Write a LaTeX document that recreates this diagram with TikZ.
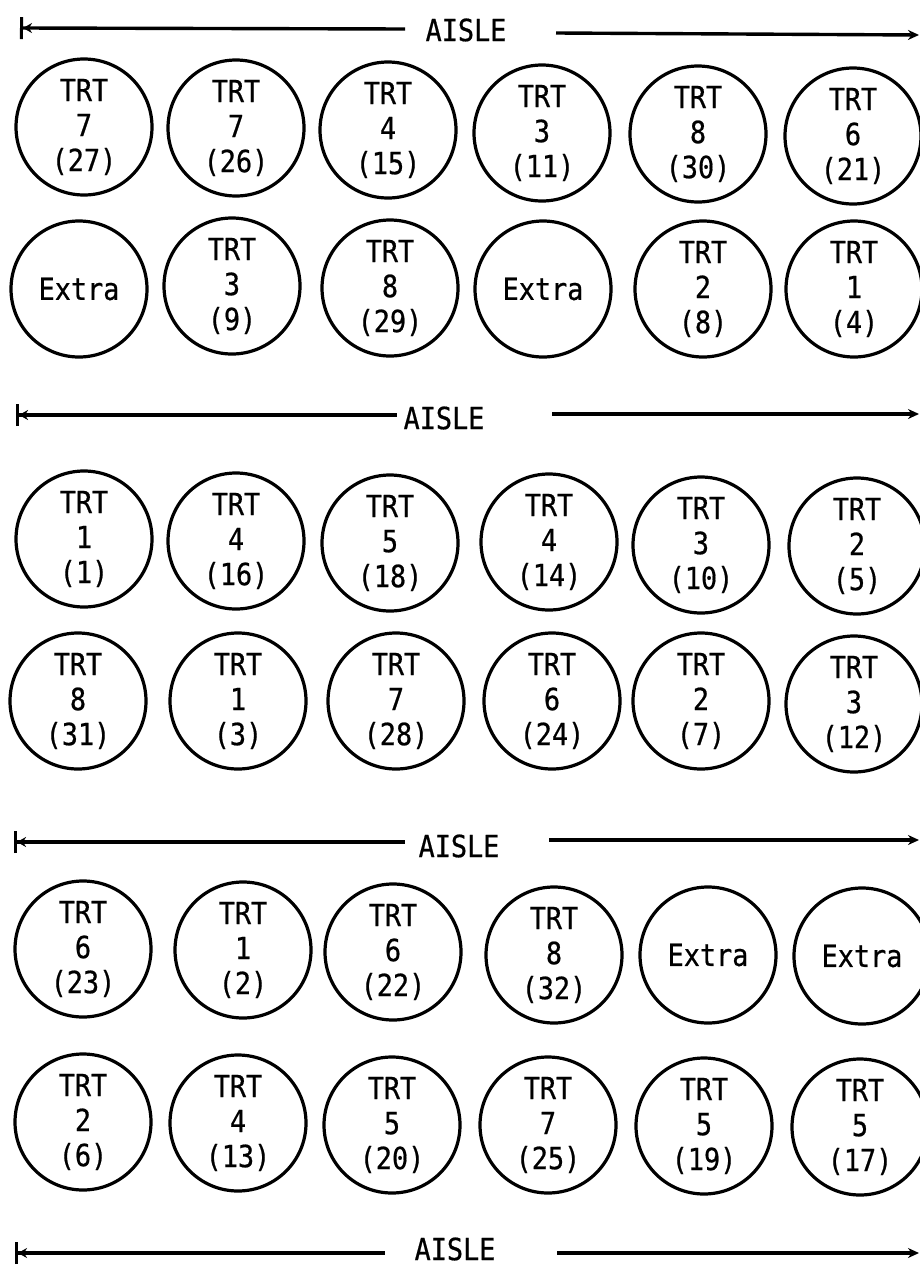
\documentclass[tikz,border=0pt]{standalone}
\usepackage{fontspec}
\newfontfamily\typefont[FakeStretch=0.88,FakeBold=0.6]{DejaVu Sans Mono}
\usetikzlibrary{arrows.meta}
\begin{document}
\begin{tikzpicture}[x=1pt,y=-1pt,
  plot/.style={circle,draw,line width=3.2pt,minimum size=136pt,inner sep=0pt,
    align=center,font=\typefont\fontsize{30.5}{35}\selectfont},
  aislelabel/.style={font=\typefont\fontsize{30.5}{35}\selectfont,inner sep=0pt},
  aisleline/.style={line width=3.4pt},
  leftend/.style={{Bar[width=22pt,line width=3pt]Stealth[length=9pt,width=10pt]}-},
  rightend/.style={-{Stealth[length=11pt,width=10pt]}}]
\useasboundingbox (0,0) rectangle (920,1266);

% Aisle 1
\coordinate (a1l) at (20,28); \coordinate (a1m) at (405,29);
\node[aislelabel] (a1) at (466,30) {AISLE};
\coordinate (a1n) at (556,33); \coordinate (a1r) at (919,35);
\draw[aisleline,leftend] (a1l) -- (a1m);
\draw[aisleline,rightend] (a1n) -- (a1r);

% Row 1
\node[plot] (r1c1) at (84,127) {TRT\\7\\(27)};
\node[plot] (r1c2) at (236,128) {TRT\\7\\(26)};
\node[plot] (r1c3) at (388,130) {TRT\\4\\(15)};
\node[plot] (r1c4) at (542,133) {TRT\\3\\(11)};
\node[plot] (r1c5) at (698,134) {TRT\\8\\(30)};
\node[plot] (r1c6) at (853,136) {TRT\\6\\(21)};

% Row 2
\node[plot] (r2c1) at (79,289) {Extra};
\node[plot] (r2c2) at (232,286) {TRT\\3\\(9)};
\node[plot] (r2c3) at (390,288) {TRT\\8\\(29)};
\node[plot] (r2c4) at (543,289) {Extra};
\node[plot] (r2c5) at (703,289) {TRT\\2\\(8)};
\node[plot] (r2c6) at (854,289) {TRT\\1\\(4)};

% Aisle 2
\coordinate (a2l) at (16,415); \coordinate (a2m) at (397,415);
\node[aislelabel] (a2) at (444,418) {AISLE};
\coordinate (a2n) at (552,414); \coordinate (a2r) at (919,414);
\draw[aisleline,leftend] (a2l) -- (a2m);
\draw[aisleline,rightend] (a2n) -- (a2r);

% Row 3
\node[plot] (r3c1) at (84,539) {TRT\\1\\(1)};
\node[plot] (r3c2) at (236,541) {TRT\\4\\(16)};
\node[plot] (r3c3) at (390,543) {TRT\\5\\(18)};
\node[plot] (r3c4) at (549,542) {TRT\\4\\(14)};
\node[plot] (r3c5) at (701,545) {TRT\\3\\(10)};
\node[plot] (r3c6) at (857,546) {TRT\\2\\(5)};

% Row 4
\node[plot] (r4c1) at (78,701) {TRT\\8\\(31)};
\node[plot] (r4c2) at (238,701) {TRT\\1\\(3)};
\node[plot] (r4c3) at (396,701) {TRT\\7\\(28)};
\node[plot] (r4c4) at (552,701) {TRT\\6\\(24)};
\node[plot] (r4c5) at (701,701) {TRT\\2\\(7)};
\node[plot] (r4c6) at (854,704) {TRT\\3\\(12)};

% Aisle 3
\coordinate (a3l) at (14,842); \coordinate (a3m) at (405,842);
\node[aislelabel] (a3) at (459,846) {AISLE};
\coordinate (a3n) at (549,840); \coordinate (a3r) at (919,840);
\draw[aisleline,leftend] (a3l) -- (a3m);
\draw[aisleline,rightend] (a3n) -- (a3r);

% Row 5
\node[plot] (r5c1) at (83,949) {TRT\\6\\(23)};
\node[plot] (r5c2) at (243,950) {TRT\\1\\(2)};
\node[plot] (r5c3) at (393,952) {TRT\\6\\(22)};
\node[plot] (r5c4) at (554,955) {TRT\\8\\(32)};
\node[plot] (r5c5) at (708,955) {Extra};
\node[plot] (r5c6) at (862,956) {Extra};

% Row 6
\node[plot] (r6c1) at (83,1122) {TRT\\2\\(6)};
\node[plot] (r6c2) at (238,1123) {TRT\\4\\(13)};
\node[plot] (r6c3) at (392,1125) {TRT\\5\\(20)};
\node[plot] (r6c4) at (548,1125) {TRT\\7\\(25)};
\node[plot] (r6c5) at (704,1126) {TRT\\5\\(19)};
\node[plot] (r6c6) at (860,1127) {TRT\\5\\(17)};

% Aisle 4
\coordinate (a4l) at (15,1253); \coordinate (a4m) at (385,1253);
\node[aislelabel] (a4) at (455,1249) {AISLE};
\coordinate (a4n) at (557,1253); \coordinate (a4r) at (919,1253);
\draw[aisleline,leftend] (a4l) -- (a4m);
\draw[aisleline,rightend] (a4n) -- (a4r);
\end{tikzpicture}
\end{document}
